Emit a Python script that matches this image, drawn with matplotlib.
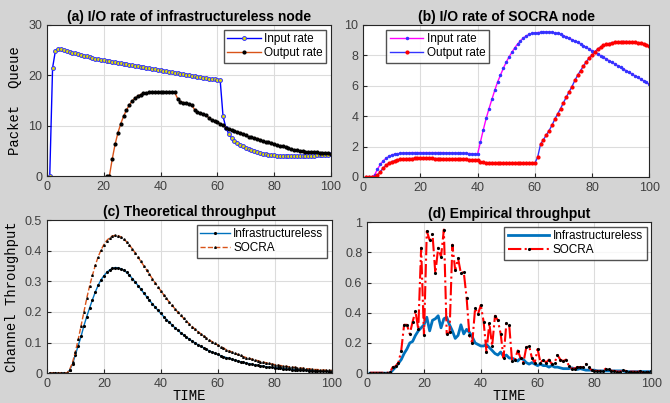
import numpy as np
import matplotlib.pyplot as plt

t = np.arange(1, 101)

# (a) I/O rate of infrastructureless node
a_input = [0, 21.5, 24.9, 25.3, 25.15, 25.0, 24.8, 24.65, 24.5, 24.35,
           24.2, 24.05, 23.9, 23.75, 23.6, 23.45, 23.3, 23.2, 23.1, 23.0,
           22.9, 22.8, 22.7, 22.6, 22.5, 22.4, 22.3, 22.2, 22.1, 22.0,
           21.9, 21.8, 21.7, 21.6, 21.5, 21.4, 21.3, 21.2, 21.1, 21.0,
           20.9, 20.8, 20.7, 20.6, 20.5, 20.4, 20.3, 20.2, 20.1, 20.0,
           19.9, 19.8, 19.7, 19.6, 19.5, 19.4, 19.3, 19.25, 19.2, 19.1,
           19.0, 11.9, 9.6, 8.4, 7.6, 7.0, 6.6, 6.2, 5.9, 5.6,
           5.3, 5.1, 4.9, 4.75, 4.6, 4.45, 4.35, 4.25, 4.15, 4.1,
           4.05, 4.0, 4.0, 4.0, 4.0, 4.0, 4.0, 4.0, 4.0, 4.0,
           4.0, 4.0, 4.05, 4.05, 4.1, 4.1, 4.15, 4.2, 4.25, 4.3]
a_output = [np.nan] * 20 + [
           0, 0, 3.4, 6.3, 8.6, 10.4, 11.9, 13.1, 14.1, 14.9,
           15.5, 15.9, 16.2, 16.4, 16.5, 16.6, 16.6, 16.6, 16.6, 16.6,
           16.6, 16.6, 16.6, 16.6, 16.6, 15.4, 14.8, 14.6, 14.5, 14.3,
           14.1, 13.2, 12.7, 12.5, 12.3, 12.1, 11.6, 11.2, 10.9, 10.7,
           10.4, 10.2, 9.6, 9.3, 9.1, 8.95, 8.8, 8.6, 8.4, 8.1,
           7.8, 7.7, 7.6, 7.45, 7.25, 6.95, 6.8, 6.7, 6.5, 6.35,
           6.15, 6.0, 5.9, 5.8, 5.5, 5.3, 5.2, 5.1, 5.0, 4.9,
           4.85, 4.8, 4.75, 4.7, 4.7, 4.65, 4.6, 4.55, 4.5, 4.45]

# (b) I/O rate of SOCRA node
b_input = [0, 0, 0, 0.13, 0.5, 0.82, 1.05, 1.22, 1.35, 1.44,
           1.5, 1.53, 1.55, 1.57, 1.58, 1.59, 1.6, 1.6, 1.6, 1.6,
           1.6, 1.6, 1.6, 1.6, 1.6, 1.6, 1.6, 1.6, 1.59, 1.59,
           1.58, 1.58, 1.57, 1.56, 1.56, 1.55, 1.54, 1.53, 1.52, 1.5,
           2.3, 3.1, 3.85, 4.5, 5.1, 5.7, 6.25, 6.7, 7.15, 7.55,
           7.9, 8.2, 8.5, 8.75, 8.95, 9.15, 9.28, 9.38, 9.45, 9.48,
           9.5, 9.52, 9.54, 9.55, 9.54, 9.52, 9.49, 9.44, 9.38, 9.3,
           9.22, 9.13, 9.04, 8.95, 8.85, 8.75, 8.64, 8.53, 8.42, 8.31,
           8.2, 8.09, 7.98, 7.87, 7.76, 7.65, 7.54, 7.43, 7.32, 7.21,
           7.1, 6.99, 6.88, 6.77, 6.66, 6.55, 6.44, 6.33, 6.22, 6.1]
b_output = [0, 0, 0, 0, 0.1, 0.35, 0.58, 0.76, 0.9, 1.0,
            1.07, 1.12, 1.16, 1.18, 1.2, 1.21, 1.21, 1.22, 1.22, 1.22,
            1.22, 1.22, 1.22, 1.22, 1.21, 1.21, 1.21, 1.2, 1.2, 1.2,
            1.19, 1.19, 1.18, 1.17, 1.16, 1.15, 1.14, 1.13, 1.12, 1.11,
            0.95, 0.95, 0.94, 0.94, 0.94, 0.93, 0.93, 0.93, 0.92, 0.92,
            0.92, 0.92, 0.91, 0.91, 0.91, 0.91, 0.9, 0.9, 0.9, 0.9,
            1.3, 2.15, 2.45, 2.75, 3.05, 3.4, 3.8, 4.15, 4.5, 4.88,
            5.25, 5.6, 5.95, 6.35, 6.7, 7.0, 7.3, 7.58, 7.83, 8.05,
            8.25, 8.42, 8.55, 8.65, 8.72, 8.78, 8.83, 8.87, 8.9, 8.9,
            8.91, 8.91, 8.9, 8.89, 8.87, 8.84, 8.8, 8.75, 8.69, 8.62]

# (c) Theoretical throughput
c_infra = [0, 0, 0, 0, 0, 0, 0, 0.01, 0.03, 0.06,
           0.09, 0.12, 0.155, 0.185, 0.213, 0.24, 0.265, 0.287, 0.305, 0.318,
           0.329, 0.337, 0.342, 0.345, 0.344, 0.341, 0.336, 0.329, 0.32, 0.309,
           0.298, 0.286, 0.274, 0.262, 0.25, 0.238, 0.227, 0.216, 0.205, 0.195,
           0.185, 0.175, 0.166, 0.157, 0.148, 0.14, 0.132, 0.125, 0.118, 0.111,
           0.105, 0.099, 0.093, 0.088, 0.083, 0.078, 0.073, 0.069, 0.065, 0.061,
           0.057, 0.054, 0.051, 0.048, 0.045, 0.042, 0.04, 0.037, 0.035, 0.033,
           0.031, 0.029, 0.027, 0.026, 0.024, 0.023, 0.021, 0.02, 0.019, 0.018,
           0.017, 0.016, 0.015, 0.014, 0.013, 0.012, 0.011, 0.011, 0.01, 0.009,
           0.009, 0.008, 0.008, 0.007, 0.007, 0.006, 0.006, 0.006, 0.005, 0.005]
c_socra = [0, 0, 0, 0, 0, 0, 0, 0.012, 0.035, 0.07,
           0.11, 0.155, 0.2, 0.245, 0.285, 0.32, 0.352, 0.38, 0.402, 0.42,
           0.433, 0.442, 0.448, 0.45, 0.449, 0.445, 0.438, 0.429, 0.418, 0.406,
           0.393, 0.379, 0.365, 0.351, 0.337, 0.323, 0.309, 0.295, 0.282, 0.269,
           0.256, 0.244, 0.232, 0.221, 0.21, 0.199, 0.189, 0.179, 0.17, 0.161,
           0.152, 0.144, 0.136, 0.129, 0.122, 0.115, 0.109, 0.103, 0.097, 0.092,
           0.087, 0.082, 0.077, 0.073, 0.069, 0.065, 0.061, 0.058, 0.054, 0.051,
           0.048, 0.046, 0.043, 0.041, 0.038, 0.036, 0.034, 0.032, 0.03, 0.028,
           0.027, 0.025, 0.024, 0.022, 0.021, 0.02, 0.019, 0.018, 0.017, 0.016,
           0.015, 0.014, 0.013, 0.012, 0.012, 0.011, 0.01, 0.01, 0.009, 0.009]

# (d) Empirical throughput
d_infra = [0, 0, 0, 0, 0, 0, 0, 0, 0.02, 0.04,
           0.065, 0.09, 0.13, 0.16, 0.2, 0.21, 0.25, 0.28, 0.3, 0.32,
           0.37, 0.28, 0.35, 0.36, 0.38, 0.3, 0.36, 0.37, 0.32, 0.28,
           0.23, 0.25, 0.32, 0.26, 0.29, 0.27, 0.24, 0.2, 0.19, 0.18,
           0.18, 0.19, 0.17, 0.15, 0.13, 0.12, 0.14, 0.11, 0.12, 0.1,
           0.1, 0.09, 0.08, 0.1, 0.09, 0.07, 0.06, 0.07, 0.06, 0.05,
           0.06, 0.05, 0.05, 0.04, 0.05, 0.04, 0.04, 0.035, 0.03, 0.03,
           0.03, 0.035, 0.03, 0.025, 0.03, 0.025, 0.02, 0.02, 0.02, 0.02,
           0.015, 0.015, 0.015, 0.015, 0.015, 0.015, 0.015, 0.015, 0.015, 0.015,
           0.01, 0.01, 0.01, 0.01, 0.01, 0.01, 0.01, 0.01, 0.01, 0.01]
d_socra = [0.003, 0.003, 0.003, 0.003, 0.003, 0.003, 0.003, 0.005, 0.04, 0.045,
           0.07, 0.15, 0.32, 0.32, 0.26, 0.34, 0.41, 0.29, 0.83, 0.25,
           0.94, 0.88, 0.92, 0.66, 0.83, 0.77, 0.95, 0.26, 0.27, 0.85,
           0.68, 0.76, 0.66, 0.67, 0.5, 0.25, 0.2, 0.43, 0.39, 0.45,
           0.34, 0.14, 0.33, 0.18, 0.38, 0.35, 0.26, 0.1, 0.33, 0.32,
           0.08, 0.09, 0.15, 0.1, 0.07, 0.17, 0.18, 0.1, 0.07, 0.16,
           0.07, 0.09, 0.07, 0.09, 0.06, 0.07, 0.12, 0.09, 0.08, 0.09,
           0.05, 0.03, 0.03, 0.04, 0.04, 0.04, 0.06, 0.04, 0.02, 0.015,
           0.015, 0.015, 0.015, 0.03, 0.03, 0.015, 0.015, 0.01, 0.01, 0.02,
           0.015, 0.01, 0.01, 0.01, 0.008, 0.012, 0.005, 0.005, 0.01, 0.015]

plt.rcParams['font.family'] = ['Liberation Sans', 'DejaVu Sans']
mono = 'Liberation Mono'

fig = plt.figure(figsize=(6.7, 4.03), dpi=100, facecolor='#d4d4d4')
ax_a = fig.add_axes([0.070, 0.563, 0.424, 0.375])
ax_b = fig.add_axes([0.542, 0.561, 0.427, 0.377])
ax_c = fig.add_axes([0.070, 0.074, 0.425, 0.380])
ax_d = fig.add_axes([0.548, 0.074, 0.424, 0.375])

leg_kw = dict(fontsize=8.5, fancybox=False, edgecolor='#262626', borderpad=0.3,
              labelspacing=0.15, handletextpad=0.3, borderaxespad=0.4)


def style(ax, title, ymax, yticks):
    ax.set_xlim(0, 100)
    ax.set_ylim(0, ymax)
    ax.set_xticks(range(0, 101, 20))
    ax.set_yticks(yticks)
    ax.grid(True, color='#dcdcdc', linewidth=0.8)
    ax.set_axisbelow(True)
    ax.tick_params(direction='in', length=3, labelsize=9, colors='#262626',
                   labelcolor='#404040')
    for s in ax.spines.values():
        s.set_color('#262626')
        s.set_linewidth(0.8)
    ax.set_title(title, fontsize=10, fontweight='bold', pad=3)


# (a)
ax_a.plot(t, a_input, color='#0000ff', lw=1, marker='o', ms=2.8,
          mec='#3333ff', mfc='#e0e000', mew=0.7, label='Input rate')
ax_a.plot(t, a_output, color='#D95319', lw=1, marker='.', ms=4,
          mec='black', mfc='black', label='Output rate')
style(ax_a, '(a) I/O rate of infrastructureless node', 30, [0, 10, 20, 30])
ax_a.set_ylabel('Packet  Queue', family=mono, fontsize=10)
ax_a.legend(loc='upper right', handlelength=2.8, **leg_kw)

# (b)
ax_b.plot(t, b_input, color='#ff00ff', lw=1, marker='.', ms=3,
          mec='#3333ff', mfc='#3333ff', label='Input rate')
ax_b.plot(t, b_output, color='#3333ff', lw=1, marker='.', ms=4,
          mec='#ff0000', mfc='#ff0000', label='Output rate')
style(ax_b, '(b) I/O rate of SOCRA node', 10, [0, 2, 4, 6, 8, 10])
ax_b.legend(loc='upper left', bbox_to_anchor=(0.065, 1.0), handlelength=2.8,
            **leg_kw)

# (c)
ax_c.plot(t, c_infra, color='#0072BD', lw=1, marker='.', ms=2.5,
          mec='black', mfc='black', label='Infrastructureless')
ax_c.plot(t, c_socra, color='#D95319', lw=1, ls='--', marker='^', ms=1.2,
          mec='black', mfc='black', label='SOCRA')
style(ax_c, '(c) Theoretical throughput', 0.5, [0, 0.1, 0.2, 0.3, 0.4, 0.5])
ax_c.set_yticklabels(['0', '0.1', '0.2', '0.3', '0.4', '0.5'])
ax_c.set_ylabel('Channel Throughput', family=mono, fontsize=10)
ax_c.set_xlabel('TIME', family=mono, fontsize=10, labelpad=-1)
ax_c.legend(loc='upper right', handlelength=2.5, **leg_kw)

# (d)
ax_d.plot(t, d_infra, color='#0072BD', lw=2, label='Infrastructureless')
ax_d.plot(t, d_socra, color='#ff0000', lw=1.5, ls='-.', marker='.', ms=2.5,
          mec='black', mfc='black', label='SOCRA')
style(ax_d, '(d) Empirical throughput', 1, [0, 0.2, 0.4, 0.6, 0.8, 1])
ax_d.set_yticklabels(['0', '0.2', '0.4', '0.6', '0.8', '1'])
ax_d.set_xlabel('TIME', family=mono, fontsize=10, labelpad=-1)
ax_d.legend(loc='upper right', handlelength=3.5, **leg_kw)

fig.savefig('out.png', dpi=100, facecolor=fig.get_facecolor())
